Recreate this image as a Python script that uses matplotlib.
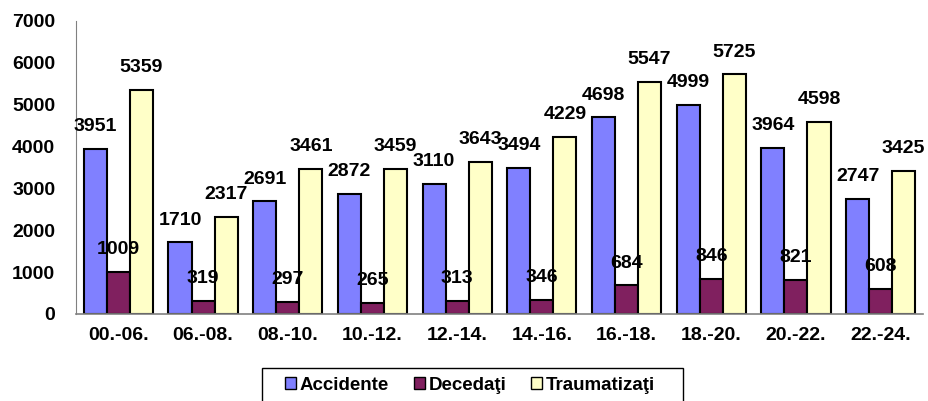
import numpy as np
import matplotlib.pyplot as plt
from matplotlib.patches import Rectangle

# data
intervals = ['00.-06.', '06.-08.', '08.-10.', '10.-12.', '12.-14.',
             '14.-16.', '16.-18.', '18.-20.', '20.-22.', '22.-24.']
accidente = [3951, 1710, 2691, 2872, 3110, 3494, 4698, 4999, 3964, 2747]
decedati = [1009, 319, 297, 265, 313, 346, 684, 846, 821, 608]
traumatizati = [5359, 2317, 3461, 3459, 3643, 4229, 5547, 5725, 4598, 3425]

series = [('Accidente', accidente, '#8080FF'),
          ('Decedaţi', decedati, '#80205F'),
          ('Traumatizaţi', traumatizati, '#FFFFC8')]

plt.rcParams['font.family'] = ['Liberation Sans', 'DejaVu Sans']
plt.rcParams['font.weight'] = 'bold'

fig = plt.figure(figsize=(9.29, 4.01), dpi=100)
ax = fig.add_axes([76 / 929, 1 - 314 / 401, (923 - 76) / 929, (314 - 21) / 401])

x = np.arange(len(intervals))
w = 0.272
for i, (name, vals, col) in enumerate(series):
    pos = x + (i - 1) * w
    ax.bar(pos, vals, w, color=col, edgecolor='black', linewidth=1.5, label=name)
    for px, v in zip(pos, vals):
        ax.annotate(str(v), (px, v), xytext=(0, 16), textcoords='offset points',
                    ha='center', va='center', fontsize=14, fontweight='bold')

ax.set_xlim(-0.5, len(intervals) - 0.5)
ax.set_ylim(0, 7000)
ax.set_yticks(range(0, 7001, 1000))
ax.set_xticks(x)
ax.set_xticklabels(intervals)
ax.tick_params(axis='both', length=0, labelsize=14)
ax.tick_params(axis='x', pad=9)
ax.tick_params(axis='y', pad=15)
for lab in ax.get_xticklabels() + ax.get_yticklabels():
    lab.set_fontweight('bold')

ax.spines['top'].set_visible(False)
ax.spines['right'].set_visible(False)
ax.spines['left'].set_color('#808080')
ax.spines['bottom'].set_color('#808080')
ax.spines['bottom'].set_linewidth(1.2)

# legend box runs off the bottom of the picture, so draw the frame by hand
fig.patches.append(Rectangle((262 / 929, -0.02), (683 - 262) / 929, 0.02 + 1 - 368 / 401,
                             transform=fig.transFigure, fill=False,
                             edgecolor='black', linewidth=1.0))
leg = fig.legend(loc='center left', bbox_to_anchor=(285 / 929, 1 - 385 / 401),
                 ncol=3, frameon=False, fontsize=13.5,
                 handlelength=0.6, handleheight=0.6, handletextpad=0.2,
                 columnspacing=1.3, borderpad=0, borderaxespad=0)
for h in leg.legend_handles:
    h.set_linewidth(1.0)

fig.savefig('out.png', dpi=100)
